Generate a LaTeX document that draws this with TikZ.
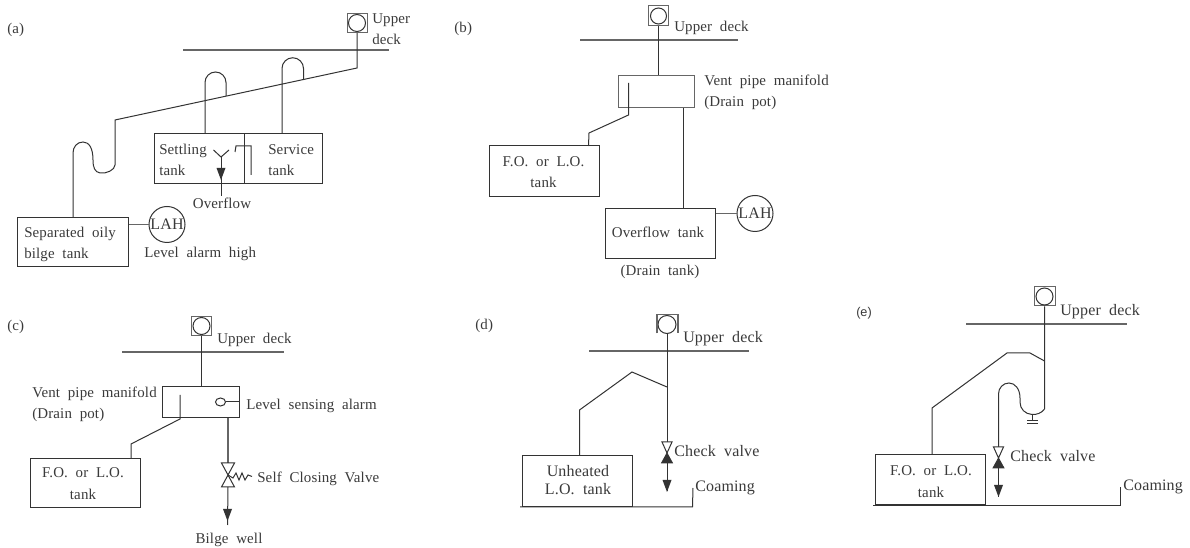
\documentclass[tikz,border=0pt]{standalone}
\usepackage{fontspec}
\usetikzlibrary{shapes.geometric}
\setmainfont[LetterSpace=1,WordSpace=2.0]{Liberation Serif}
\newfontfamily\tagfont{Liberation Sans}
\definecolor{ink}{HTML}{333333}
\definecolor{txt}{HTML}{3A3A3A}
\definecolor{soft}{HTML}{666666}
\newcommand{\headdown}[2]{\fill[ink] (#1-4.5,#2) -- (#1+4.5,#2) -- (#1,#2+12) -- cycle;}
\newcommand{\checkvalve}[2]{%
  \draw[pipe,fill=white] (#1-5,#2) -- (#1+5,#2) -- (#1,#2+11) -- cycle;
  \filldraw[ink,line width=.6pt] (#1,#2+11) -- (#1+5.5,#2+21) -- (#1-5.5,#2+21) -- cycle;}
\begin{document}
\begin{tikzpicture}[x=0.75pt,y=-0.75pt,
  pipe/.style={draw=ink,line width=0.75pt},
  deck/.style={draw=soft,line width=0.8pt},
  box/.style={draw=ink,line width=0.75pt,inner sep=0pt,rectangle},
  sz/.style 2 args={minimum width=#1*0.75pt,minimum height=#2*0.75pt},
  head/.style={box,draw=soft,sz={20}{19.5}},
  bulb/.style={circle,draw=ink,line width=0.75pt,inner sep=0pt,minimum size=#1*0.75pt},
  lbl/.style={text=txt,font=\fontsize{11.2}{12}\selectfont,inner sep=0pt,anchor=base west},
  lblb/.style={lbl,font=\fontsize{12}{12}\selectfont},
  clbl/.style={lbl,anchor=base},
  clblb/.style={lblb,anchor=base},
  alarm/.style={circle,draw=ink,line width=0.75pt,inner sep=0pt,minimum size=36*0.75pt,text=txt,font=\fontsize{12}{12}\selectfont}]
\useasboundingbox (0,0) rectangle (1190,548);
\fill[white] (0,0) rectangle (1190,548);

%% (a)
\node[lbl] (tagA) at (7,34) {(a)};
\node[head] (headA) at (357,23) {};
\node[bulb=17] (ventA) at (357,23) {};
\node[lbl] (ua1) at (372,24) {Upper};
\node[lbl] (ua2) at (372,45) {deck};
\coordinate (deckAl) at (183,50); \coordinate (deckAr) at (389,50);
\draw[deck] (deckAl) -- (deckAr);
\coordinate (mainAr) at (357,68); \coordinate (mainAl) at (115,120);
\draw[pipe] (headA.south) -- (mainAr) -- (mainAl) -- (115,165)
  .. controls (115,170) and (106,174) .. (100,173)
  .. controls (95,172) and (93,168) .. (93,160)
  .. controls (93,148) and (89,142) .. (83,142)
  .. controls (77,142) and (73,147) .. (73,153) -- (73,217.5);
\node[box,sz={89.5}{50}] (setA) at (199.25,159) {};
\node[box,sz={78.5}{50}] (serA) at (283.25,159) {};
\draw[pipe] (205,134) -- (205,82.5) arc[start angle=180,end angle=360,radius=10.5] -- (226,96);
\draw[pipe] (282,134) -- (282,68.5) arc[start angle=180,end angle=360,radius=10.75] -- (303.5,79);
\node[lbl] (sa1) at (159,155) {Settling};
\node[lbl] (sa2) at (159,176) {tank};
\node[lbl] (sa3) at (268,155) {Service};
\node[lbl] (sa4) at (268,176) {tank};
\coordinate (funA) at (221,157);
\draw[pipe] (213.5,150) -- (funA) -- (229,150);
\draw[pipe] (funA) -- (221,196);
\headdown{221}{168}
\draw[pipe] (235,152) -- (236,146) -- (251,146) -- (251,175);
\node[clbl] (ofA) at (222,209) {Overflow};
\node[box,sz={111}{49.5}] (sepA) at (73,242.25) {};
\node[lbl] (sp1) at (24,238) {Separated oily};
\node[lbl] (sp2) at (24,259) {bilge tank};
\node[alarm] (lahA) at (167,224.5) {LAH};
\draw[deck,line width=1.1pt] (sepA.east |- lahA) -- (lahA);
\node[lbl] (lvA) at (144,258) {Level alarm high};

%% (b)
\node[lbl] (tagB) at (454,33) {(b)};
\node[head] (headB) at (658.5,15.5) {};
\node[bulb=16] (ventB) at (658.5,16) {};
\node[lbl] (ub) at (674,32) {Upper deck};
\draw[deck] (580,40) -- (738,40);
\node[box,sz={75.5}{32.5},draw=soft] (manB) at (656.25,91.75) {};
\draw[pipe] (headB.south) -- (manB.north -| headB);
\node[lbl] (vb1) at (704,86) {Vent pipe manifold};
\node[lbl] (vb2) at (704,107) {(Drain pot)};
\node[box,sz={110}{51}] (foB) at (544,171.5) {};
\node[clbl] (fb1) at (543.5,167) {F.O. or L.O.};
\node[clbl] (fb2) at (543.5,188) {tank};
\draw[pipe] (628.5,83) -- (628.5,115) -- (589,133) -- (588.5,146);
\node[box,sz={110.5}{50}] (ovB) at (660.25,233.5) {};
\node[clbl] (ob) at (658,238) {Overflow tank};
\node[clbl] (db) at (660,276) {(Drain tank)};
\draw[pipe] (683.5,108) -- (683.5,208.5);
\node[alarm] (lahB) at (755,213.5) {LAH};
\draw[deck,line width=1.1pt] (ovB.east |- lahB) -- (lahB);

%% (c)
\node[lbl] (tagC) at (7,331) {(c)};
\node[head] (headC) at (201.5,326) {};
\node[bulb=17] (ventC) at (201.5,326) {};
\node[lbl] (uc) at (217,344) {Upper deck};
\draw[deck] (122,352) -- (284,352);
\node[box,sz={77}{31.5}] (manC) at (201,402.25) {};
\draw[pipe] (headC.south) -- (manC.north -| headC);
\node[lbl] (vc1) at (32,398) {Vent pipe manifold};
\node[lbl] (vc2) at (32,419) {(Drain pot)};
\node[box,sz={110}{49.5}] (foC) at (85.5,483.25) {};
\node[clbl] (fc1) at (83,478) {F.O. or L.O.};
\node[clbl] (fc2) at (83,500) {tank};
\draw[pipe] (180,395) -- (180,419) -- (131,444) -- (131,458.5);
\node[ellipse,draw=ink,line width=.75pt,inner sep=0pt,minimum width=10*0.75pt,minimum height=8*0.75pt] (lsC) at (220.5,402) {};
\draw[pipe] (lsC) -- (lsC -| manC.east);
\node[lbl] (lc) at (246,410) {Level sensing alarm};
\coordinate (vcT) at (228,463);
\coordinate (vcM) at (228,475);
\coordinate (vcB) at (228,487);
\draw[deck,line width=1.1pt] (228,418) -- (vcT);
\draw[pipe] (221.5,463) -- (234.5,463) -- (221.5,487) -- (234.5,487) -- cycle;
\draw[pipe] (vcM) -- (233,478) -- (236,473) -- (239,480) -- (242,473) -- (245,480) -- (248,475) -- (252,476.5);
\draw[pipe] (vcB) -- (227.5,525);
\headdown{227.5}{509}
\node[lbl] (sc) at (257,483) {Self Closing Valve};
\node[clbl] (bc) at (229,544) {Bilge well};

%% (d)
\node[lbl] (tagD) at (475,330) {(d)};
\node[bulb=18] (ventD) at (667,324.5) {};
\draw[deck] (657,333.5) -- (657,314.5) -- (678,314.5) -- (678,333.5);
\node[lblb] (ud) at (683,343) {Upper deck};
\draw[deck] (589,351) -- (749,351);
\coordinate (cvD) at (667,442);
\draw[pipe] (ventD.south) -- (cvD);
\node[box,sz={110.5}{51}] (lbD) at (577.25,481.5) {};
\node[clblb] (ld1) at (578,477) {Unheated};
\node[clblb] (ld2) at (578,495) {L.O. tank};
\draw[pipe] (667,387) -- (632,372) -- (579.5,410) -- (579.5,456);
\checkvalve{667}{442}
\draw[pipe] (667,463) -- (667,491);
\headdown{667}{480}
\node[lblb] (cd) at (674,457) {Check valve};
\draw[pipe] (520,507) -- (692.5,507) -- (693,488);
\node[lblb] (co) at (695,492) {Coaming};

%% (e)
\node[lbl,font=\tagfont\fontsize{9.5}{12}\selectfont] (tagE) at (856,317) {(e)};
\node[box,sz={21}{19},draw=soft] (headE) at (1044.5,296.5) {};
\node[bulb=17] (ventE) at (1044.5,296.5) {};
\node[lblb] (ue) at (1060,316) {Upper deck};
\draw[deck] (966,324) -- (1127,324);
\coordinate (trapE) at (1044.5,409);
\draw[pipe] (headE.south) -- (trapE)
  .. controls (1042,413) and (1036,415) .. (1032,414.5)
  .. controls (1025,414) and (1020,409) .. (1020,402)
  -- (1020,398)
  .. controls (1020,389) and (1015,383) .. (1009,383)
  .. controls (1003,383) and (998.5,388) .. (998.5,394) -- (998.5,447);
\draw[pipe] (1032,414.5) -- (1032,420.5);
\draw[pipe] (1027,421) -- (1038,421);
\draw[pipe] (1027,424) -- (1038,424);
\draw[pipe] (1044.5,361) -- (1030,353) -- (1007,353) -- (932,408) -- (932,455);
\node[box,sz={110}{50}] (foE) at (930,480) {};
\node[clbl] (fe1) at (931,476) {F.O. or L.O.};
\node[clbl] (fe2) at (931,498) {tank};
\checkvalve{998.5}{447}
\draw[pipe] (998.5,467) -- (998.5,497);
\headdown{998.5}{485}
\node[lblb] (ce) at (1010,462) {Check valve};
\draw[pipe] (873,505.5) -- (1120,505.5) -- (1120,487);
\node[lblb] (coe) at (1123,491) {Coaming};
\end{tikzpicture}
\end{document}
